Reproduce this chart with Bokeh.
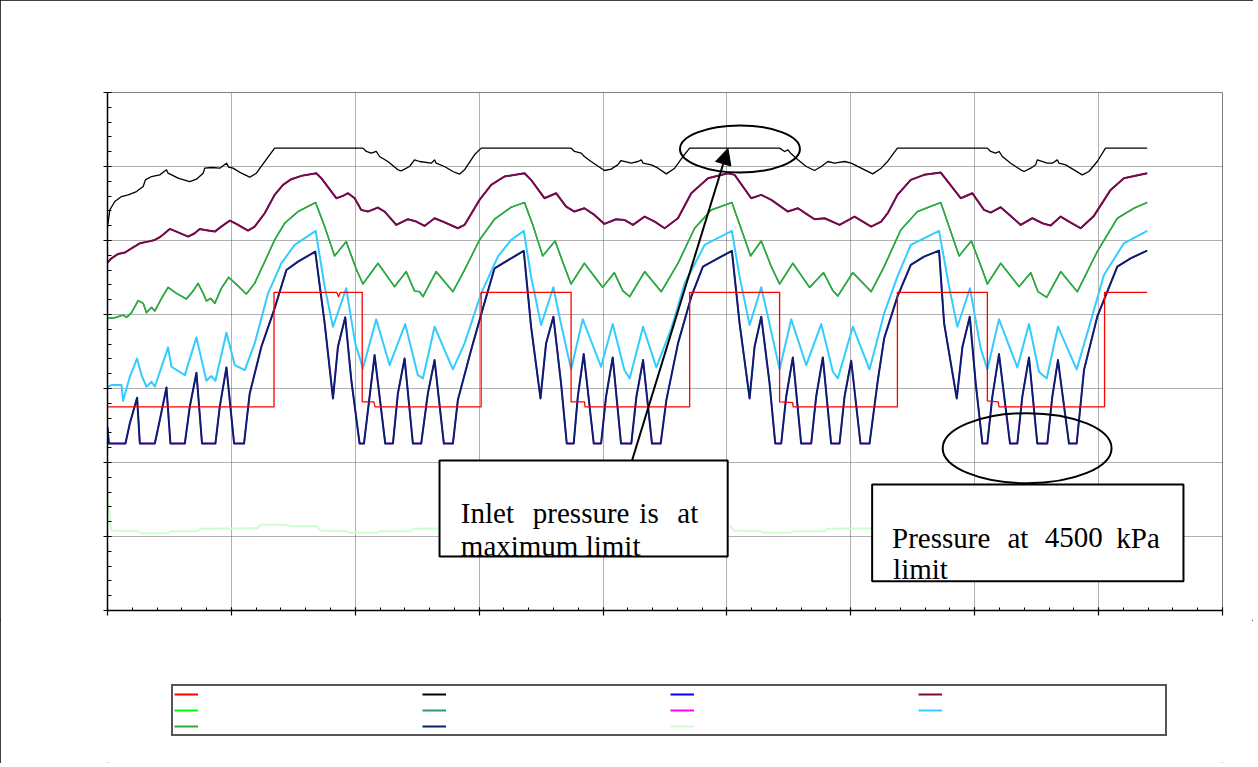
from bokeh.plotting import figure
from bokeh.layouts import column
from bokeh.models import (Range1d, FixedTicker, CustomJSTickFormatter, Legend, LegendItem,
                          BoxAnnotation, Arrow, NormalHead, Label)
from bokeh.embed import file_html
from bokeh.resources import INLINE

# ---------------- data (time in h, pressure in kPa) ----------------
red_t = [0, 1.344, 1.344, 1.85, 1.865, 1.88, 2.056, 2.056, 2.15, 2.16, 3.016, 3.016, 3.742, 3.742,
         3.85, 3.855, 4.699, 4.699, 5.425, 5.425, 5.53, 5.535, 6.376, 6.376, 7.102, 7.102, 7.19,
         7.196, 8.048, 8.048, 8.392]
red_p = [5505, 5505, 8599, 8599, 8482, 8599, 8599, 5641, 5641, 5505, 5505, 8599, 8599, 5641,
         5641, 5505, 5505, 8599, 8599, 5641, 5620, 5505, 5505, 8599, 8599, 5668, 5641,
         5505, 5505, 8599, 8599]

black_t = [0.0, 0.019, 0.059, 0.113, 0.167, 0.234, 0.288, 0.306, 0.355, 0.422, 0.476, 0.489, 0.570,
           0.664, 0.718, 0.772, 0.785, 0.839, 0.906, 0.960, 0.978, 1.013, 1.081, 1.148, 1.202,
           1.269, 1.349, 2.062, 2.089, 2.129, 2.169, 2.196, 2.263, 2.344, 2.371, 2.438, 2.478,
           2.519, 2.613, 2.640, 2.653, 2.720, 2.788, 2.841, 2.882, 2.962, 3.016, 3.742, 3.769,
           3.823, 3.849, 3.903, 4.011, 4.065, 4.118, 4.145, 4.228, 4.282, 4.309, 4.323, 4.390,
           4.444, 4.511, 4.578, 4.645, 4.699, 5.425, 5.465, 5.492, 5.519, 5.573, 5.640, 5.707,
           5.761, 5.815, 5.868, 5.949, 6.003, 6.083, 6.177, 6.245, 6.30, 6.376, 7.102, 7.129,
           7.169, 7.196, 7.223, 7.290, 7.371, 7.398, 7.452, 7.492, 7.505, 7.586, 7.626, 7.667,
           7.680, 7.734, 7.801, 7.868, 7.922, 7.989, 8.056, 8.392]
black_p = [10376, 10827, 11053, 11188, 11233, 11323, 11459, 11639, 11729, 11774, 11910, 11819, 11684,
           11594, 11657, 11819, 11955, 11973, 11955, 12090, 11982, 11955, 11819, 11711, 11819,
           12135, 12496, 12496, 12406, 12361, 12406, 12270, 12135, 11910, 11883, 12000, 12180,
           12135, 12090, 12180, 12090, 12000, 11865, 11792, 11910, 12316, 12496, 12496, 12406,
           12361, 12270, 12135, 11892, 11928, 12045, 12162, 12090, 12135, 12180, 12090, 12045,
           11955, 11801, 11955, 12270, 12496, 12496, 12406, 12451, 12343, 12180, 12000, 11892,
           12000, 12135, 12090, 12135, 12090, 11955, 11801, 11955, 12150, 12496, 12496, 12406,
           12361, 12406, 12270, 12090, 11910, 11865, 11955, 12045, 12180, 12090, 12090, 12180,
           12090, 12045, 11910, 11774, 11865, 12135, 12496, 12496]

maroon_t = [0.0, 0.032, 0.086, 0.140, 0.194, 0.261, 0.328, 0.382, 0.422, 0.462, 0.503, 0.556, 0.651,
            0.704, 0.745, 0.785, 0.866, 0.919, 0.987, 1.040, 1.134, 1.188, 1.269, 1.349, 1.417,
            1.484, 1.565, 1.685, 1.726, 1.847, 1.901, 1.941, 1.995, 2.048, 2.102, 2.183, 2.237,
            2.331, 2.425, 2.492, 2.559, 2.640, 2.707, 2.828, 2.882, 3.003, 3.097, 3.204, 3.366,
            3.419, 3.527, 3.621, 3.702, 3.769, 3.849, 3.930, 4.011, 4.105, 4.172, 4.242, 4.336,
            4.417, 4.497, 4.605, 4.712, 4.847, 5.008, 5.062, 5.196, 5.277, 5.358, 5.492, 5.573,
            5.653, 5.707, 5.788, 5.909, 6.030, 6.164, 6.245, 6.30, 6.376, 6.484, 6.591, 6.726,
            6.887, 6.981, 7.075, 7.129, 7.210, 7.290, 7.371, 7.465, 7.546, 7.613, 7.694, 7.761,
            7.855, 7.962, 8.097, 8.204, 8.392]
maroon_p = [9402, 9519, 9637, 9673, 9790, 9925, 9970, 10015, 10088, 10196, 10313, 10241, 10106,
            10196, 10313, 10286, 10241, 10376, 10539, 10448, 10268, 10376, 10737, 11233, 11504,
            11657, 11747, 11819, 11684, 11143, 11206, 11278, 11143, 10827, 10782, 10890, 10782,
            10421, 10575, 10512, 10394, 10602, 10512, 10331, 10421, 11098, 11504, 11729, 11819,
            11639, 11143, 11278, 10917, 10782, 10872, 10692, 10448, 10575, 10557, 10421, 10647,
            10512, 10331, 10602, 11278, 11684, 11819, 11774, 11143, 11233, 11098, 10782, 10872,
            10692, 10575, 10602, 10421, 10647, 10376, 10512, 10750, 11233, 11639, 11774, 11837,
            11143, 11278, 10827, 10755, 10899, 10665, 10421, 10602, 10467, 10403, 10647, 10512,
            10331, 10665, 11368, 11684, 11819]

green_t = [0.0, 0.059, 0.126, 0.153, 0.194, 0.247, 0.288, 0.315, 0.355, 0.382, 0.436, 0.489, 0.556,
           0.637, 0.691, 0.731, 0.772, 0.798, 0.833, 0.866, 0.919, 0.978, 1.054, 1.121, 1.188,
           1.269, 1.349, 1.430, 1.538, 1.680, 1.753, 1.833, 1.927, 2.008, 2.062, 2.183, 2.317,
           2.411, 2.478, 2.519, 2.546, 2.653, 2.788, 2.882, 3.003, 3.124, 3.258, 3.366, 3.433,
           3.513, 3.613, 3.688, 3.742, 3.849, 3.997, 4.091, 4.159, 4.215, 4.336, 4.470, 4.605,
           4.739, 4.874, 5.040, 5.191, 5.277, 5.358, 5.425, 5.532, 5.667, 5.780, 5.855, 5.895,
           6.016, 6.164, 6.269, 6.403, 6.538, 6.726, 6.874, 6.973, 7.062, 7.102, 7.210, 7.358,
           7.452, 7.511, 7.581, 7.694, 7.828, 7.989, 8.151, 8.285, 8.392]
green_p = [7896, 7914, 7986, 7923, 8049, 8374, 8302, 8049, 8194, 8094, 8437, 8734, 8572,
           8419, 8635, 8843, 8572, 8365, 8437, 8302, 8707, 9005, 8771, 8554, 8843,
           9429, 10015, 10466, 10782, 11026, 10376, 9583, 9970, 9222, 8825, 9384, 8753,
           9159, 8635, 8617, 8482, 9159, 8617, 9204, 10015, 10575, 10900, 11026, 10421,
           9583, 9988, 9294, 8825, 9384, 8734, 9131, 8644, 8482, 9159, 8617, 9384,
           10331, 10827, 11026, 9583, 9988, 9294, 8825, 9384, 8734, 9131, 8644, 8500,
           9131, 8617, 9294, 10286, 10782, 11026, 9583, 9988, 9204, 8825, 9384, 8753,
           9131, 8617, 8464, 9159, 8617, 9700, 10602, 10872, 11026]

cyan_t = [0.0, 0.032, 0.113, 0.126, 0.180, 0.239, 0.274, 0.315, 0.355, 0.382, 0.489, 0.516, 0.624,
          0.718, 0.798, 0.839, 0.871, 0.960, 1.027, 1.108, 1.188, 1.296, 1.403, 1.511, 1.680,
          1.753, 1.820, 1.927, 2.000, 2.062, 2.169, 2.277, 2.403, 2.505, 2.546, 2.640, 2.788,
          2.882, 3.016, 3.151, 3.258, 3.360, 3.419, 3.500, 3.599, 3.648, 3.742, 3.836, 3.984,
          4.078, 4.172, 4.215, 4.323, 4.430, 4.551, 4.659, 4.820, 5.040, 5.102, 5.183, 5.277,
          5.331, 5.425, 5.519, 5.640, 5.761, 5.855, 5.895, 6.016, 6.151, 6.269, 6.376, 6.484,
          6.712, 6.793, 6.860, 6.962, 7.048, 7.102, 7.196, 7.344, 7.438, 7.519, 7.581, 7.672,
          7.823, 7.935, 8.043, 8.204, 8.392]
cyan_p = [6047, 6092, 6092, 5668, 6317, 6813, 6362, 6047, 6182, 6047, 7111, 6588, 6362,
          7382, 6209, 6335, 6209, 7508, 6633, 6498, 7219, 8572, 9384, 9880, 10259,
          8753, 7670, 8708, 7219, 6543, 7869, 6633, 7742, 6362, 6272, 7670, 6516,
          7219, 8572, 9565, 10015, 10259, 9023, 7715, 8735, 7941, 6516, 7869, 6588,
          7742, 6498, 6272, 7670, 6570, 7625, 8843, 9880, 10259, 9023, 7715, 8735,
          7941, 6516, 7869, 6633, 7742, 6453, 6272, 7670, 6516, 8031, 9023, 9880,
          10259, 8753, 7670, 8708, 7084, 6516, 7869, 6570, 7742, 6453, 6272, 7670,
          6516, 7805, 9068, 9925, 10259]

navy_t = [0.0, 0.011, 0.145, 0.180, 0.239, 0.261, 0.382, 0.422, 0.476, 0.508, 0.624, 0.664, 0.718,
          0.763, 0.871, 0.906, 0.960, 1.022, 1.102, 1.148, 1.242, 1.349, 1.444, 1.538, 1.677,
          1.753, 1.820, 1.860, 1.919, 1.968, 2.035, 2.070, 2.156, 2.242, 2.304, 2.344, 2.398,
          2.465, 2.532, 2.586, 2.640, 2.715, 2.788, 2.828, 2.935, 3.030, 3.124, 3.258, 3.360,
          3.419, 3.495, 3.540, 3.599, 3.661, 3.707, 3.763, 3.796, 3.844, 3.925, 3.984, 4.024,
          4.078, 4.145, 4.228, 4.269, 4.323, 4.395, 4.465, 4.511, 4.605, 4.712, 4.806, 4.927,
          5.040, 5.102, 5.183, 5.223, 5.277, 5.344, 5.390, 5.438, 5.478, 5.532, 5.599, 5.680,
          5.720, 5.774, 5.841, 5.909, 5.949, 6.003, 6.078, 6.151, 6.218, 6.269, 6.376, 6.484,
          6.591, 6.712, 6.753, 6.855, 6.901, 6.960, 7.008, 7.062, 7.102, 7.142, 7.196, 7.285,
          7.344, 7.384, 7.438, 7.505, 7.586, 7.626, 7.672, 7.761, 7.823, 7.882, 7.989, 8.151,
          8.258, 8.392]
navy_p = [4955, 4513, 4513, 5055, 5749, 4513, 4513, 5145, 6029, 4513, 4513, 5505, 6425,
          4513, 4513, 5505, 6570, 4513, 4513, 5866, 7129, 8166, 9204, 9429, 9700,
          7760, 5731, 7129, 7923, 6227, 4513, 4513, 6903, 4513, 4513, 5866, 6813,
          4513, 4513, 5866, 6768, 4513, 4513, 5686, 7039, 8166, 9249, 9519, 9718,
          7670, 5731, 7219, 7941, 6137, 4513, 4513, 5776, 6931, 4513, 4513, 5776,
          6840, 4513, 4513, 5776, 6768, 4513, 4513, 5686, 7219, 8482, 9294, 9519,
          9718, 7760, 5731, 7129, 7941, 6137, 4513, 4513, 5776, 6840, 4513, 4513,
          5776, 6840, 4513, 4513, 5776, 6750, 4513, 4513, 6227, 7355, 8482, 9339,
          9565, 9727, 7760, 5731, 7129, 7941, 6137, 4513, 4513, 5776, 6931, 4513,
          4513, 5776, 6840, 4513, 4513, 5776, 6768, 4513, 4513, 6498, 7941, 9294,
          9519, 9727]

palegreen_t = [0.0, 0.03, 0.25, 0.266, 0.495, 0.508, 0.723, 0.75, 1.207, 1.234, 1.449, 1.476, 1.691,
               1.718, 1.933, 1.96, 2.175, 2.2, 2.45, 2.47, 2.876, 2.903, 3.118, 3.145, 3.36,
               3.387, 3.602, 3.629, 3.844, 3.869, 4.12, 4.14, 4.545, 4.572, 4.787, 4.814, 5.029,
               5.056, 5.27, 5.298, 5.513, 5.538, 5.79, 5.81, 6.214, 6.241, 6.456, 6.483, 6.698,
               6.725, 6.94, 6.967, 7.182, 7.207, 7.46, 7.48, 7.883, 7.91, 8.125, 8.152, 8.392]
palegreen_p = [3160, 2162, 2144, 2090, 2090, 2144, 2144, 2207, 2225, 2315, 2315, 2279, 2279,
               2162, 2144, 2099, 2099, 2144, 2144, 2207, 2225, 2315, 2315, 2279, 2279,
               2162, 2144, 2099, 2099, 2144, 2144, 2207, 2225, 2315, 2315, 2279, 2279,
               2162, 2144, 2099, 2099, 2144, 2144, 2207, 2225, 2315, 2315, 2279, 2279,
               2162, 2144, 2099, 2099, 2144, 2144, 2207, 2225, 2315, 2315, 2279, 2279]

# series hidden underneath the visible curves (only their legend keys can be seen)
blue_t, blue_p = maroon_t, maroon_p
brightgreen_t, brightgreen_p = green_t, green_p
teal_t, teal_p = green_t, green_p
magenta_t, magenta_p = navy_t, navy_p

x_ticks = [0, 1, 2, 3, 4, 5, 6, 7, 8, 9]
x_minor = [i / 5 for i in range(0, 46)]
y_ticks = [0, 2000, 4000, 6000, 8000, 10000, 12000, 14000]
y_minor = [i * 400 for i in range(0, 36)]

# (key, t, p, colour, width) in drawing order
series = [
    ("blue", blue_t, blue_p, "#0000FF", 1.5),
    ("brightgreen", brightgreen_t, brightgreen_p, "#00FF00", 1.2),
    ("teal", teal_t, teal_p, "#339966", 1.2),
    ("magenta", magenta_t, magenta_p, "#FF00FF", 1.5),
    ("palegreen", palegreen_t, palegreen_p, "#CCFFCC", 2),
    ("navy", navy_t, navy_p, "#06206E", 2),
    ("cyan", cyan_t, cyan_p, "#33CCFF", 2),
    ("green", green_t, green_p, "#33A645", 1.6),
    ("maroon", maroon_t, maroon_p, "#7A0A40", 2),
    ("black", black_t, black_p, "#000000", 1.3),
    ("red", red_t, red_p, "#FF0000", 1.3),
]
legend_order = ["red", "black", "blue", "maroon", "brightgreen", "teal", "magenta", "cyan",
                "green", "navy", "palegreen"]

# ---------------- main chart ----------------
p = figure(width=1253, height=620, x_range=Range1d(0, 9), y_range=Range1d(0, 14000),
           output_backend="svg", toolbar_location=None,
           min_border_left=107, min_border_right=31, min_border_top=92, min_border_bottom=10)
p.background_fill_color = "white"
p.border_fill_color = "white"
p.outline_line_color = "#808080"
p.outline_line_width = 1

for ax in (p.xaxis[0], p.yaxis[0]):
    ax.formatter = CustomJSTickFormatter(code="return ''")
    ax.major_label_text_font_size = "0px"
    ax.major_label_standoff = 0
    ax.axis_line_color = "black"
    ax.axis_line_width = 1.5
    ax.major_tick_line_color = "black"
    ax.minor_tick_line_color = "black"
    ax.major_tick_line_width = 1.2
    ax.minor_tick_line_width = 1
    ax.minor_tick_out = 0
p.xaxis.ticker = FixedTicker(ticks=x_ticks, minor_ticks=x_minor)
p.yaxis.ticker = FixedTicker(ticks=y_ticks, minor_ticks=y_minor)
p.xaxis.major_tick_in = 3
p.xaxis.major_tick_out = 5
p.xaxis.minor_tick_in = 3
p.yaxis.major_tick_in = 4
p.yaxis.major_tick_out = 4
p.yaxis.minor_tick_in = 4

p.grid.grid_line_color = "#606060"
p.grid.grid_line_dash = "1 1"
p.grid.grid_line_width = 1

for key, t, v, c, w in series:
    p.line(t, v, line_color=c, line_width=w, line_join="round")

# annotation ellipses
p.ellipse(x=[5.105], y=[12474], width=[0.968], height=[1270], fill_color=None,
          line_color="black", line_width=2)
p.ellipse(x=[7.423], y=[4387], width=[1.363], height=[1892], fill_color=None,
          line_color="black", line_width=2)

# annotation boxes
p.add_layout(BoxAnnotation(left=2.680, right=5.006, top=4054, bottom=1460, fill_color="white",
                           fill_alpha=1, line_color="black", line_width=2, line_alpha=1))
p.add_layout(BoxAnnotation(left=6.172, right=8.685, top=3406, bottom=792, fill_color="white",
                           fill_alpha=1, line_color="black", line_width=2, line_alpha=1))
p.add_layout(Arrow(end=NormalHead(size=16, fill_color="black", line_color="black"),
                   x_start=4.234, y_start=4054, x_end=5.008, y_end=12488,
                   line_color="black", line_width=2))

font = "Liberation Serif"
for x, y, t in [(2.852, 2622, "Inlet"), (3.433, 2622, "pressure"), (4.293, 2622, "is"),
                (4.599, 2622, "at"), (2.852, 1730, "maximum limit"),
                (6.333, 1965, "Pressure"), (7.264, 1965, "at"), (7.565, 1965, "4500"),
                (8.143, 1965, "kPa"), (6.341, 1127, "limit")]:
    p.add_layout(Label(x=x, y=y, text=t, text_font=font, text_font_size="29px",
                       text_color="black", text_baseline="alphabetic", text_align="left"))

# ---------------- legend strip (series keys; curves lie outside its view) ----------------
lg = figure(width=1253, height=143, x_range=Range1d(-20, -19), y_range=Range1d(-20, -19),
            output_backend="svg", toolbar_location=None, x_axis_type=None, y_axis_type=None,
            min_border_left=101, min_border_right=0, min_border_top=0, min_border_bottom=0)
lg.outline_line_color = None
lg.background_fill_color = "white"
lg.border_fill_color = "white"
lg.grid.visible = False
keys = {}
for key, t, v, c, w in series:
    keys[key] = lg.line(t, v, line_color=c, line_width=2)

legend = Legend(items=[LegendItem(label=" ", renderers=[keys[k]]) for k in legend_order],
                location="top_left", orientation="horizontal", ncols=4,
                glyph_width=24, glyph_height=14, label_height=14, label_width=219,
                label_standoff=3, spacing=2, padding=1, margin=64,
                label_text_font_size="8px",
                border_line_color="#555555", border_line_width=2, border_line_alpha=1,
                background_fill_color="white", background_fill_alpha=1)
lg.add_layout(legend)

page = column(p, lg, spacing=0)
page.styles = {"outline": "1px solid #000000", "outline-offset": "-1px"}

open("out.html", "w").write(file_html(page, INLINE))
